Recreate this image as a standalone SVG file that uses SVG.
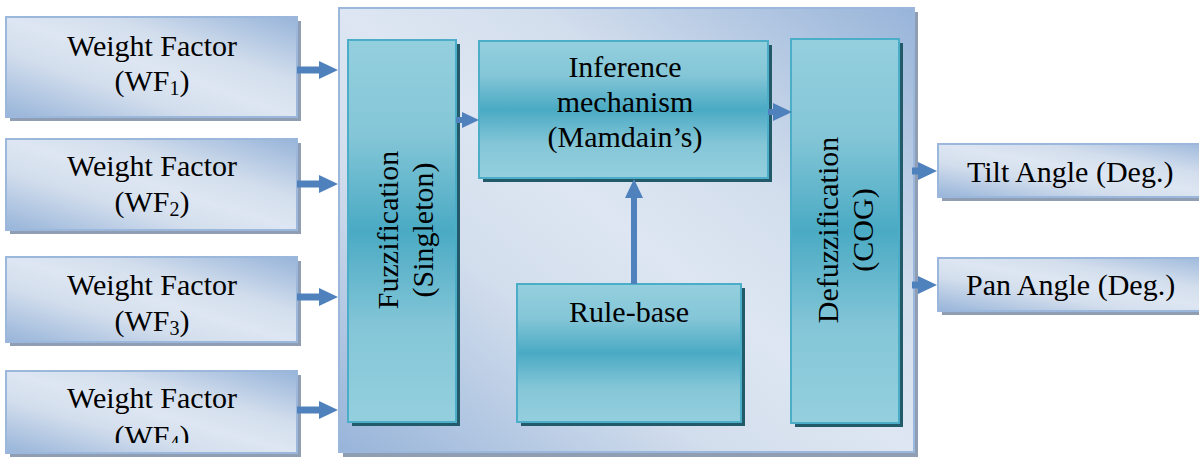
<svg xmlns="http://www.w3.org/2000/svg" width="1199" height="458" viewBox="0 0 1199 458">
  <defs>
    <!-- pale blue panel fill: darker toward top-right and bottom-left -->
    <linearGradient id="blueFill" x1="1" y1="0" x2="0" y2="1">
      <stop offset="0" stop-color="#97b4d9"/>
      <stop offset="0.33" stop-color="#d3deed"/>
      <stop offset="0.5" stop-color="#dde6f2"/>
      <stop offset="0.67" stop-color="#d3deed"/>
      <stop offset="1" stop-color="#97b4d9"/>
    </linearGradient>
    <!-- teal block fill: light edges, saturated middle band -->
    <linearGradient id="tealFill" x1="0" y1="0" x2="0" y2="1">
      <stop offset="0" stop-color="#94cfde"/>
      <stop offset="0.25" stop-color="#84c6d7"/>
      <stop offset="0.5" stop-color="#4aaac4"/>
      <stop offset="0.75" stop-color="#84c6d7"/>
      <stop offset="1" stop-color="#94cfde"/>
    </linearGradient>
    <clipPath id="wf4Clip">
      <rect x="6" y="371" width="291" height="72"/>
    </clipPath>
  </defs>
  <style>
    .bshadow { fill: #909eb3; }
    .bbox { fill: url(#blueFill); stroke: #9bb7db; stroke-width: 2; }
    .tshadow { fill: #225a6a; }
    .tbox { fill: url(#tealFill); stroke: #4badc7; stroke-width: 2; }
    .lbl { font-size: 30px; fill: #000; }
    .mid { text-anchor: middle; }
    .sub { font-size: 20px; }
    .arrow { fill: #4f81bd; }
  </style>

  <g font-family="'Liberation Serif', 'Times New Roman', 'DejaVu Serif', serif">
  <!-- controller enclosure -->
  <g id="controller">
    <rect class="bshadow" x="343" y="12" width="575" height="445"/>
    <rect class="bbox" x="339" y="8" width="575" height="444"/>
  </g>

  <!-- inputs -->
  <g id="wf1">
    <rect class="bshadow" x="10" y="21" width="291" height="100"/>
    <rect class="bbox" x="6" y="17" width="291" height="100"/>
    <text class="lbl mid" x="152" y="56">Weight Factor</text>
    <text class="lbl mid" x="152" y="91">(WF<tspan class="sub" dy="4">1</tspan><tspan dy="-4">)</tspan></text>
  </g>
  <g id="wf2">
    <rect class="bshadow" x="10" y="143" width="291" height="91"/>
    <rect class="bbox" x="6" y="139" width="291" height="91"/>
    <text class="lbl mid" x="152" y="176">Weight Factor</text>
    <text class="lbl mid" x="152" y="212">(WF<tspan class="sub" dy="4">2</tspan><tspan dy="-4">)</tspan></text>
  </g>
  <g id="wf3">
    <rect class="bshadow" x="10" y="261" width="291" height="85"/>
    <rect class="bbox" x="6" y="257" width="291" height="85"/>
    <text class="lbl mid" x="152" y="295">Weight Factor</text>
    <text class="lbl mid" x="152" y="331">(WF<tspan class="sub" dy="4">3</tspan><tspan dy="-4">)</tspan></text>
  </g>
  <g id="wf4">
    <rect class="bshadow" x="10" y="375" width="291" height="82"/>
    <rect class="bbox" x="6" y="371" width="291" height="82"/>
    <g clip-path="url(#wf4Clip)">
      <text class="lbl mid" x="152" y="408">Weight Factor</text>
      <text class="lbl mid" x="152" y="446">(WF<tspan class="sub" dy="4">4</tspan><tspan dy="-4">)</tspan></text>
    </g>
  </g>

  <!-- fuzzy stages -->
  <g id="fuzzification">
    <rect class="tshadow" x="352" y="44" width="108" height="382"/>
    <rect class="tbox" x="348" y="40" width="108" height="382"/>
    <text class="lbl mid" transform="translate(398,230) rotate(-90)">Fuzzification</text>
    <text class="lbl mid" transform="translate(433,230) rotate(-90)">(Singleton)</text>
  </g>
  <g id="inference">
    <rect class="tshadow" x="483" y="45" width="289" height="137"/>
    <rect class="tbox" x="479" y="41" width="289" height="137"/>
    <text class="lbl mid" x="625" y="77">Inference</text>
    <text class="lbl mid" x="625" y="112">mechanism</text>
    <text class="lbl mid" x="625" y="147">(Mamdain’s)</text>
  </g>
  <g id="rulebase">
    <rect class="tshadow" x="521" y="288" width="224" height="138"/>
    <rect class="tbox" x="517" y="284" width="224" height="138"/>
    <text class="lbl mid" x="629" y="322">Rule-base</text>
  </g>
  <g id="defuzzification">
    <rect class="tshadow" x="795" y="43" width="108" height="384"/>
    <rect class="tbox" x="791" y="39" width="108" height="384"/>
    <text class="lbl mid" transform="translate(838,230) rotate(-90)">Defuzzification</text>
    <text class="lbl mid" transform="translate(873,230) rotate(-90)">(COG)</text>
  </g>

  <!-- outputs -->
  <g id="tilt">
    <rect class="bshadow" x="942" y="148" width="290" height="53"/>
    <rect class="bbox" x="938" y="144" width="290" height="53"/>
    <text class="lbl" x="967" y="182">Tilt Angle (Deg.)</text>
  </g>
  <g id="pan">
    <rect class="bshadow" x="942" y="262" width="290" height="53"/>
    <rect class="bbox" x="938" y="258" width="290" height="53"/>
    <text class="lbl" x="966" y="295">Pan Angle (Deg.)</text>
  </g>

  <!-- block arrows -->
  <g id="connectors">
    <path class="arrow" d="M297,66.5 H319 V61 L338,70 L319,79 V73.5 H297 Z"/>
    <path class="arrow" d="M297,180.5 H319 V175 L338,184 L319,193 V187.5 H297 Z"/>
    <path class="arrow" d="M297,293.5 H319 V288 L338,297 L319,306 V300.5 H297 Z"/>
    <path class="arrow" d="M297,406.5 H319 V401 L338,410 L319,419 V413.5 H297 Z"/>
    <path class="arrow" d="M456,117 H462 V112 L479,120 L462,128 V123 H456 Z"/>
    <path class="arrow" d="M768,109 H773 V103 L792,112 L773,121 V115 H768 Z"/>
    <path class="arrow" d="M631,284 V198 H625 L634,179 L643,198 H637 V284 Z"/>
    <path class="arrow" d="M912,167.5 H918 V162 L937,171 L918,180 V174.5 H912 Z"/>
    <path class="arrow" d="M912,281.5 H918 V276 L937,285 L918,294 V288.5 H912 Z"/>
  </g>
  </g>
</svg>
